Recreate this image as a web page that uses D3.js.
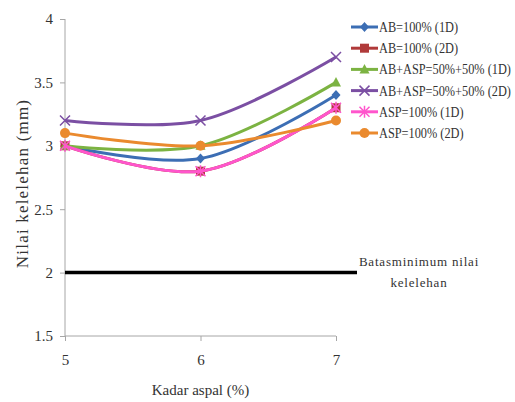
<!DOCTYPE html>
<html>
<head>
<meta charset="utf-8">
<script src="https://cdn.jsdelivr.net/npm/d3@7"></script>
<style>
  body { margin: 0; background: #fff; }
  text { font-family: "Liberation Serif", "DejaVu Serif", serif; fill: #333; }
</style>
</head>
<body>
<div id="chart"></div>
<script>
const kadar = [5, 6, 7];
const yTicks = [1.5, 2, 2.5, 3, 3.5, 4];
const seriesNames = [
  'AB=100% (1D)',
  'AB=100% (2D)',
  'AB+ASP=50%+50% (1D)',
  'AB+ASP=50%+50% (2D)',
  'ASP=100% (1D)',
  'ASP=100% (2D)'
];
const ab1D = [3.0, 2.9, 3.4];
const ab2D = [3.0, 2.8, 3.3];
const mix1D = [3.0, 3.0, 3.5];
const mix2D = [3.2, 3.2, 3.7];
const asp1D = [3.0, 2.8, 3.3];
const asp2D = [3.1, 3.0, 3.2];
const batasMin = 2;

const seriesValues = [ab1D, ab2D, mix1D, mix2D, asp1D, asp2D];
const colors = ['#3c6eb4', '#b03a3a', '#7cb342', '#7b4fa3', '#ff55cc', '#ea8a2e'];
const markers = ['diamond', 'square', 'triangle', 'x', 'star', 'circle'];

const W = 515, H = 402;
const m = { left: 65, right: 179, top: 19, bottom: 66 };

const svg = d3.select('#chart').append('svg')
  .attr('width', W).attr('height', H);

const x = d3.scaleLinear().domain([5, 7]).range([m.left, W - m.right]);
const y = d3.scaleLinear().domain([1.5, 4]).range([H - m.bottom, m.top]);

// axes
const yAxis = svg.append('g')
  .attr('transform', `translate(${m.left},0)`)
  .call(d3.axisLeft(y).tickValues(yTicks).tickSize(5).tickPadding(7).tickFormat(d3.format('')));
const xAxis = svg.append('g')
  .attr('transform', `translate(0,${H - m.bottom})`)
  .call(d3.axisBottom(x).tickValues(kadar).tickSize(5).tickPadding(13).tickFormat(d3.format('d')));
[yAxis, xAxis].forEach(a => {
  a.selectAll('line').attr('stroke', '#a6a6a6');
  a.selectAll('text').style('font-size', '15px').attr('fill', '#333');
  a.select('.domain').remove();
});
svg.append('line')
  .attr('x1', m.left).attr('x2', m.left)
  .attr('y1', y(4)).attr('y2', y(1.5))
  .attr('stroke', '#a6a6a6');
svg.append('line')
  .attr('x1', m.left).attr('x2', x(7))
  .attr('y1', y(1.5)).attr('y2', y(1.5))
  .attr('stroke', '#a6a6a6');

// axis titles
svg.append('text')
  .attr('transform', `translate(28,${(y(4) + y(1.5)) / 2 + 6}) rotate(-90)`)
  .attr('text-anchor', 'middle')
  .style('font-size', '17px')
  .style('letter-spacing', '1.2px')
  .text('Nilai kelelehan (mm)');
svg.append('text')
  .attr('x', x(6)).attr('y', 395)
  .attr('text-anchor', 'middle')
  .style('font-size', '15px')
  .text('Kadar aspal (%)');

// minimum line
svg.append('line')
  .attr('x1', m.left).attr('x2', 357)
  .attr('y1', y(batasMin)).attr('y2', y(batasMin))
  .attr('stroke', '#000').attr('stroke-width', 3.5);
svg.append('text')
  .attr('x', 419).attr('y', 266)
  .attr('text-anchor', 'middle')
  .style('font-size', '13px')
  .style('letter-spacing', '0.8px')
  .text('Batasminimum nilai');
svg.append('text')
  .attr('x', 419).attr('y', 287)
  .attr('text-anchor', 'middle')
  .style('font-size', '13px')
  .style('letter-spacing', '0.8px')
  .text('kelelehan');

function drawMarker(g, type, cx, cy, color) {
  if (type === 'diamond') {
    g.append('path').attr('d', `M${cx},${cy - 5}L${cx + 4.5},${cy}L${cx},${cy + 5}L${cx - 4.5},${cy}Z`).attr('fill', color);
  } else if (type === 'square') {
    g.append('rect').attr('x', cx - 4.5).attr('y', cy - 4.5).attr('width', 9).attr('height', 9).attr('fill', color);
  } else if (type === 'triangle') {
    g.append('path').attr('d', `M${cx},${cy - 5.5}L${cx + 5},${cy + 4}L${cx - 5},${cy + 4}Z`).attr('fill', color);
  } else if (type === 'x') {
    g.append('path').attr('d', `M${cx - 5},${cy - 5}L${cx + 5},${cy + 5}M${cx - 5},${cy + 5}L${cx + 5},${cy - 5}`)
      .attr('stroke', color).attr('stroke-width', 1.5);
  } else if (type === 'star') {
    g.append('path').attr('d', `M${cx - 5},${cy - 5}L${cx + 5},${cy + 5}M${cx - 5},${cy + 5}L${cx + 5},${cy - 5}M${cx},${cy - 6}L${cx},${cy + 6}`)
      .attr('stroke', color).attr('stroke-width', 1.5);
  } else {
    g.append('circle').attr('cx', cx).attr('cy', cy).attr('r', 5).attr('fill', color);
  }
}

// series
const line = d3.line()
  .x((d, i) => x(kadar[i]))
  .y(d => y(d))
  .curve(d3.curveCatmullRom.alpha(0.5));

seriesValues.forEach((vals, s) => {
  const g = svg.append('g');
  g.append('path')
    .datum(vals)
    .attr('d', line)
    .attr('fill', 'none')
    .attr('stroke', colors[s])
    .attr('stroke-width', 3);
  vals.forEach((v, i) => drawMarker(g, markers[s], x(kadar[i]), y(v), colors[s]));
});

// legend (text squeezed horizontally like the narrow serif of the original)
const legend = svg.append('g').attr('transform', 'translate(351,27)');
seriesNames.forEach((name, i) => {
  const row = legend.append('g').attr('transform', `translate(0,${i * 21.2})`);
  row.append('line').attr('x1', 0).attr('x2', 27).attr('y1', 0).attr('y2', 0)
    .attr('stroke', colors[i]).attr('stroke-width', 3);
  drawMarker(row, markers[i], 13.5, 0, colors[i]);
  row.append('text')
    .attr('transform', 'translate(28,5) scale(0.88,1)')
    .style('font-size', '14px')
    .text(name);
});
</script>
</body>
</html>
